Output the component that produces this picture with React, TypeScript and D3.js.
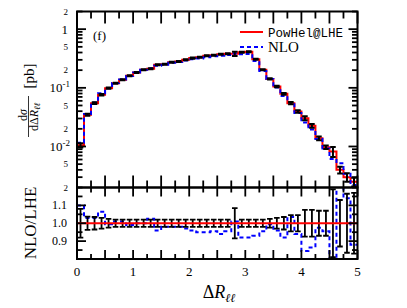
import React from 'react';
import * as d3 from 'd3';

const binStarts = [0, 0.125, 0.25, 0.375, 0.5, 0.625, 0.75, 0.875, 1.0, 1.125, 1.25, 1.375, 1.5, 1.625, 1.75, 1.875, 2.0, 2.125, 2.25, 2.375, 2.5, 2.625, 2.75, 2.875, 3.0, 3.125, 3.25, 3.375, 3.5, 3.625, 3.75, 3.875, 4.0, 4.125, 4.25, 4.375, 4.5, 4.625, 4.75, 4.875];
const binWidth = 0.125;

const lheValues = [0.0105, 0.0347, 0.0548, 0.076, 0.0987, 0.120, 0.137, 0.160, 0.182, 0.203, 0.211, 0.247, 0.253, 0.274, 0.281, 0.300, 0.321, 0.333, 0.351, 0.360, 0.375, 0.38, 0.38, 0.405, 0.411, 0.308, 0.203, 0.142, 0.105, 0.079, 0.0548, 0.0395, 0.0304, 0.0225, 0.0138, 0.0097, 0.0082, 0.0040, 0.0030, 0.0025];

const lheRelErr = [0.08, 0.037, 0.035, 0.03, 0.025, 0.02, 0.02, 0.02, 0.02, 0.02, 0.02, 0.02, 0.02, 0.02, 0.02, 0.02, 0.02, 0.02, 0.02, 0.02, 0.02, 0.02, 0.085, 0.02, 0.02, 0.02, 0.02, 0.025, 0.03, 0.035, 0.045, 0.045, 0.075, 0.075, 0.07, 0.07, 0.19, 0.13, 0.165, 0.17];

const nloRatio = [1.10, 1.03, 1.03, 1.065, 0.995, 1.01, 1.01, 0.99, 1.0, 1.0, 1.025, 0.96, 0.98, 0.98, 0.98, 0.97, 0.96, 0.95, 0.95, 0.955, 0.94, 0.955, 1.01, 0.92, 0.92, 0.93, 0.955, 0.995, 0.96, 0.92, 1.035, 0.94, 0.845, 0.865, 0.975, 0.955, 0.75, 1.3, 1.14, 0.88];

const xTickVals = [0, 1, 2, 3, 4, 5];
const logTickVals = [2, 1, 0.5, 0.2, 0.1, 0.05, 0.02, 0.01, 0.005, 0.002];
const logTickLabels = ['2', '1', '5', '2', '10^-1', '5', '2', '10^-2', '5', '2'];
const ratioTickVals = [1.1, 1.0, 0.9];
const ratioTickLabels = ['1.1', '1.0', '0.9'];

const L = 77, R = 357.5, T = 11.5, M = 187.5, B = 259;
const serif = 'Liberation Serif, Times New Roman, serif';

export default function App() {
  const x = d3.scaleLinear().domain([0, 5]).range([L, R]);
  const yTop = d3.scaleLog().domain([0.002, 2]).range([M, T]);
  const yBot = d3.scaleLinear().domain([0.8, 1.2]).range([B, M]);

  const stepLine = (vals: number[], y: (v: number) => number) => {
    const pts: [number, number][] = binStarts.map((s, i) => [s, vals[i]]);
    pts.push([binStarts[binStarts.length - 1] + binWidth, vals[vals.length - 1]]);
    return d3.line<[number, number]>()
      .x(d => x(d[0]))
      .y(d => y(d[1]))
      .curve(d3.curveStepAfter)(pts) || '';
  };

  const nloValues = lheValues.map((v, i) => v * nloRatio[i]);
  const ones = lheValues.map(() => 1);

  // x ticks every 0.25
  const xTicks = d3.range(0, 5.001, 0.25);
  // log ticks
  const logTicks: { v: number; major: boolean }[] = [];
  [0.001, 0.01, 0.1, 1].forEach(dec => {
    for (let k = 1; k <= 9; k++) {
      const v = dec * k;
      if (v >= 0.002 - 1e-9 && v <= 2 + 1e-9) logTicks.push({ v, major: k === 1 });
    }
  });
  const ratioTicks = [0.85, 0.9, 0.95, 1.0, 1.05, 1.1, 1.15];

  const capTop = 2.8;
  const capBot = 2.8;

  return (
    <svg width={407} height={308} style={{ display: 'block', position: 'absolute', left: 0, top: 0 }}>
      <defs>
        <clipPath id="clipTop"><rect x={L} y={T} width={R - L} height={M - T} /></clipPath>
        <clipPath id="clipBot"><rect x={L} y={M} width={R - L} height={B - M} /></clipPath>
      </defs>
      <rect x={0} y={0} width={407} height={308} fill="#fff" />

      {/* upper panel */}
      <g clipPath="url(#clipTop)">
        <path d={stepLine(lheValues, yTop)} fill="none" stroke="#ff0000" strokeWidth={2} />
        <path d={stepLine(nloValues, yTop)} fill="none" stroke="#0000ff" strokeWidth={2} strokeDasharray="4,3" />
        {binStarts.map((s, i) => {
          const cx = x(s + binWidth / 2);
          const v = lheValues[i];
          const y1 = yTop(v * (1 + lheRelErr[i]));
          const y2 = yTop(v * (1 - lheRelErr[i]));
          return (
            <g key={i} stroke="#000" strokeWidth={2}>
              <line x1={cx} x2={cx} y1={y1} y2={y2} />
              <line x1={cx - capTop} x2={cx + capTop} y1={y1} y2={y1} />
              <line x1={cx - capTop} x2={cx + capTop} y1={y2} y2={y2} />
            </g>
          );
        })}
      </g>

      {/* lower panel */}
      <g clipPath="url(#clipBot)">
        <path d={stepLine(nloRatio, yBot)} fill="none" stroke="#0000ff" strokeWidth={2} strokeDasharray="4,3" />
        {binStarts.map((s, i) => {
          const cx = x(s + binWidth / 2);
          const y1 = yBot(1 + lheRelErr[i]);
          const y2 = yBot(1 - lheRelErr[i]);
          return (
            <g key={i} stroke="#000" strokeWidth={1.8}>
              <line x1={cx} x2={cx} y1={y1} y2={y2} />
              <line x1={cx - capBot} x2={cx + capBot} y1={y1} y2={y1} />
              <line x1={cx - capBot} x2={cx + capBot} y1={y2} y2={y2} />
            </g>
          );
        })}
        <path d={stepLine(ones, yBot)} fill="none" stroke="#ff0000" strokeWidth={2.2} />
      </g>

      {/* ticks */}
      <g stroke="#000" strokeWidth={1.8}>
        {xTicks.map((t, i) => {
          const major = Math.abs(t * 2 - Math.round(t * 2)) < 1e-6;
          const lenTop = major ? 12 : 7;
          const lenBot = major ? 9 : 5;
          const px = x(t);
          return (
            <g key={i}>
              <line x1={px} x2={px} y1={T} y2={T + lenTop} />
              <line x1={px} x2={px} y1={M} y2={M - lenTop} />
              <line x1={px} x2={px} y1={M} y2={M + lenBot} />
              <line x1={px} x2={px} y1={B} y2={B - lenBot} />
            </g>
          );
        })}
        {logTicks.map((t, i) => {
          const len = t.major ? 9 : 5.5;
          const py = yTop(t.v);
          return (
            <g key={i}>
              <line x1={L} x2={L + len} y1={py} y2={py} />
              <line x1={R} x2={R - len} y1={py} y2={py} />
            </g>
          );
        })}
        {ratioTicks.map((t, i) => {
          const major = [0.9, 1.0, 1.1].some(m => Math.abs(m - t) < 1e-6);
          const len = major ? 9 : 5.5;
          const py = yBot(t);
          return (
            <g key={i}>
              <line x1={L} x2={L + len} y1={py} y2={py} />
              <line x1={R} x2={R - len} y1={py} y2={py} />
            </g>
          );
        })}
      </g>

      {/* frames */}
      <rect x={L} y={T} width={R - L} height={M - T} fill="none" stroke="#000" strokeWidth={2} />
      <rect x={L} y={M} width={R - L} height={B - M} fill="none" stroke="#000" strokeWidth={2} />

      {/* y tick labels upper */}
      <g fontFamily={serif} fill="#000" textAnchor="end">
        {logTickVals.map((v, i) => {
          const lab = logTickLabels[i];
          const py = yTop(v);
          if (lab.startsWith('10^')) {
            return (
              <text key={i} x={70} y={py + 4.5} fontSize={13}>
                10<tspan fontSize={9} dy={-5}>{lab.slice(3)}</tspan>
              </text>
            );
          }
          const big = lab === '1';
          return (
            <text key={i} x={68} y={py + (big ? 4.5 : 3.2)} fontSize={big ? 13 : 9}>{lab}</text>
          );
        })}
      </g>

      {/* y tick labels lower */}
      <g fontFamily={serif} fill="#000" textAnchor="end" fontSize={12}>
        {ratioTickVals.map((v, i) => (
          <text key={i} x={67} y={yBot(v) + 4}>{ratioTickLabels[i]}</text>
        ))}
      </g>

      {/* x tick labels */}
      <g fontFamily={serif} fill="#000" textAnchor="middle" fontSize={13}>
        {xTickVals.map((v, i) => (
          <text key={i} x={x(v)} y={276}>{v}</text>
        ))}
      </g>

      {/* x axis title */}
      <text x={219} y={298} fontFamily={serif} fontSize={18} textAnchor="middle" fill="#000">
        Δ<tspan fontStyle="italic">R</tspan><tspan fontStyle="italic" fontSize={12} dy={4}>ℓℓ</tspan>
      </text>

      {/* y axis title upper */}
      <g transform="translate(28,0) rotate(-90)" fontFamily={serif} fill="#000">
        <text x={-115} y={-1.5} fontSize={12} textAnchor="middle">
          d<tspan fontStyle="italic">σ</tspan>
        </text>
        <line x1={-137} x2={-96} y1={0.5} y2={0.5} stroke="#000" strokeWidth={0.8} />
        <text x={-117} y={9.5} fontSize={12} textAnchor="middle">
          dΔ<tspan fontStyle="italic">R</tspan><tspan fontStyle="italic" fontSize={8.5} dy={2.5}>ℓℓ</tspan>
        </text>
        <text x={-76} y={6} fontSize={15} textAnchor="middle">[pb]</text>
      </g>

      {/* y axis title lower */}
      <text transform="translate(36,223) rotate(-90)" fontFamily={serif} fontSize={17} textAnchor="middle" fill="#000">NLO/LHE</text>

      {/* panel tag */}
      <text x={93} y={40} fontFamily={serif} fontSize={13} fill="#000">(f)</text>

      {/* legend */}
      <line x1={240} x2={263} y1={32} y2={32} stroke="#ff0000" strokeWidth={2} />
      <text x={268} y={36.5} fontFamily="Liberation Mono, DejaVu Sans Mono, monospace" fontSize={12.5} fill="#000">PowHel@LHE</text>
      <line x1={240} x2={263} y1={47} y2={47} stroke="#0000ff" strokeWidth={2} strokeDasharray="4,3" />
      <text x={268} y={52} fontFamily={serif} fontSize={15} fill="#000">NLO</text>
    </svg>
  );
}
